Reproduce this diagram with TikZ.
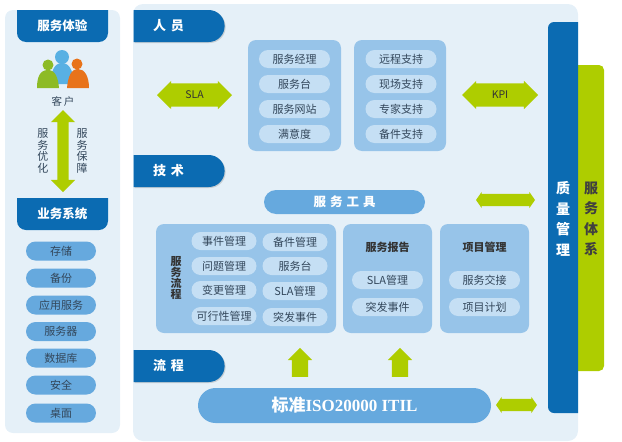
\documentclass[tikz,border=0pt]{standalone}
\usepackage{fontspec}
\usepackage{xcolor}
\usepackage{tikz}
\usetikzlibrary{shapes.arrows,shapes.misc,shadows}
\setmainfont{Noto Sans CJK SC}
\newfontfamily\latinserif{Liberation Serif}
\definecolor{panelbg}{HTML}{E5F0F8}
\definecolor{tabblue}{HTML}{0B6BB2}
\definecolor{boxblue}{HTML}{97C4E9}
\definecolor{pillblue}{HTML}{C5DFF4}
\definecolor{midblue}{HTML}{66A9DE}
\definecolor{limegreen}{HTML}{AECD00}
\definecolor{inktext}{HTML}{33475B}
\definecolor{headblue}{HTML}{58B0E3}
\definecolor{headgreen}{HTML}{8DBB25}
\definecolor{headorange}{HTML}{E8731A}
\tikzset{
  tabnode/.style={rounded rectangle,rounded rectangle west arc=none,fill=tabblue,text=white,minimum width=91pt,minimum height=32pt,inner sep=0pt,text width=51pt,align=left,font=\fontsize{13}{15}\selectfont\bfseries,drop shadow={opacity=.3,shadow xshift=1pt,shadow yshift=-1pt}},
  pillnode/.style={rounded rectangle,fill=pillblue,text=inktext,minimum width=71pt,minimum height=18pt,inner sep=0pt,font=\fontsize{11}{13}\selectfont},
  sidepill/.style={rounded rectangle,fill=midblue,text=inktext,minimum width=70pt,minimum height=19pt,inner sep=0pt,font=\fontsize{11}{13}\selectfont},
  flowpill/.style={pillnode,minimum width=65pt},
  groupbox/.style={fill=boxblue,rounded corners=8pt},
  titlenode/.style={text=black!80,font=\fontsize{11}{13}\selectfont\bfseries,inner sep=0pt},
  vtext/.style={align=center,inner sep=0pt,text width=1.2em,text=inktext,font=\fontsize{11}{11.5}\selectfont},
  widearrow/.style={double arrow,fill=limegreen,inner xsep=0pt,inner ysep=7.5pt,double arrow head extend=2.5pt,text=black!80,font=\fontsize{10.5}{12}\selectfont},
  flatarrow/.style={double arrow,fill=limegreen,inner sep=6pt,double arrow head extend=2pt,double arrow tip angle=110},
  uparrow/.style={single arrow,fill=limegreen,shape border rotate=90,minimum height=29pt,inner sep=8pt,single arrow head extend=4pt}
}
\begin{document}
\begin{tikzpicture}[x=1pt,y=-1pt]
\useasboundingbox (0,0) rectangle (622,442);
% panels
\fill[panelbg,rounded corners=8pt] (5,10) rectangle (120,433);
\fill[panelbg,rounded corners=10pt] (133,4) rectangle (578,441);
\fill[limegreen,rounded corners=5pt] (570,65) rectangle (604,371);
\fill[tabblue] (578,22) [rounded corners=6pt] -- (548,22) -- (548,413) [sharp corners] -- (578,413) -- cycle;
\node[text=white,align=center,inner sep=0pt,font=\fontsize{14}{20.5}\selectfont\bfseries] (quality) at (563,219) {质\\量\\管\\理};
\node[text=black!75,align=center,inner sep=0pt,font=\fontsize{14}{20.5}\selectfont\bfseries] (system) at (591,219) {服\\务\\体\\系};
% left column
\fill[tabblue] (17,10) -- (108,10) [rounded corners=9pt] -- (108,42) -- (17,42) [sharp corners] -- cycle;
\node[text=white,inner sep=0pt,font=\fontsize{12.5}{14}\selectfont\bfseries] (experience) at (62.5,26) {服务体验};
\fill[tabblue] (17,198) -- (108,198) [rounded corners=9pt] -- (108,230) -- (17,230) [sharp corners] -- cycle;
\node[text=white,inner sep=0pt,font=\fontsize{12.5}{14}\selectfont\bfseries] (business) at (62.5,214) {业务系统};
% people
\fill[headblue] (50,84) .. controls (51,72) and (54,63) .. (62,63) .. controls (70,63) and (73,72) .. (75,84) -- cycle;
\fill[headblue] (62,57) circle (7);
\fill[headgreen] (37,88) .. controls (37,77) and (40,70) .. (48,70) .. controls (55,70) and (58,77) .. (59,88) -- cycle;
\fill[headgreen] (48,65) circle (5.5);
\fill[headorange] (67,88) .. controls (68,77) and (71,69) .. (78,69) .. controls (85,69) and (89,77) .. (89,88) -- cycle;
\fill[headorange] (77,64) circle (5.5);
\node[text=inktext,inner sep=0pt,font=\fontsize{10.5}{12}\selectfont] (client) at (63,101) {客\,户};
\node[double arrow,fill=limegreen,shape border rotate=90,minimum height=82pt,inner sep=5.5pt,double arrow head extend=6.5pt] (link) at (63,151) {};
\node[vtext] (optimize) at (43,151) {服\\务\\优\\化};
\node[vtext] (assure) at (82,151) {服\\务\\保\\障};
\node[sidepill] (storage) at (61,251) {存储};
\node[sidepill] (backup) at (61,278) {备份};
\node[sidepill] (appserv) at (61,305) {应用服务};
\node[sidepill] (server) at (61,331.5) {服务器};
\node[sidepill] (database) at (61,358) {数据库};
\node[sidepill] (security) at (61,385) {安全};
\node[sidepill] (desktop) at (61,413) {桌面};
% tabs
\node[tabnode] (people) at (178.5,26) {人\hspace{5pt}员};
\node[tabnode] (tech) at (178.5,171) {技\hspace{5pt}术};
\node[tabnode] (process) at (178.5,366) {流\hspace{5pt}程};
% people row
\node[widearrow,minimum height=75pt] (sla) at (194.5,95) {SLA};
\node[widearrow,minimum height=76pt] (kpi) at (500,95) {KPI};
\fill[groupbox] (248,40) rectangle (341,151);
\node[pillnode] (manager) at (294.5,59) {服务经理};
\node[pillnode] (desk) at (294.5,84) {服务台};
\node[pillnode] (website) at (294.5,109) {服务网站};
\node[pillnode] (satisfy) at (294.5,134) {满意度};
\fill[groupbox] (354,40) rectangle (446,151);
\node[pillnode] (remote) at (401,59) {远程支持};
\node[pillnode] (onsite) at (401,84) {现场支持};
\node[pillnode] (expert) at (401,109) {专家支持};
\node[pillnode] (spare) at (401,134) {备件支持};
% tools row
\node[rounded rectangle,fill=midblue,text=white,minimum width=161pt,minimum height=24pt,inner sep=0pt,font=\fontsize{12.5}{14}\selectfont\bfseries] (tools) at (344.5,202) {服\hspace{4pt}务\hspace{4pt}工\hspace{4pt}具};
\node[flatarrow,minimum height=59pt] (toolarrow) at (505.5,200) {};
% process row
\fill[groupbox] (156,224) rectangle (336,333);
\node[vtext,text=black!80,font=\fontsize{11}{11}\selectfont\bfseries] (flowtitle) at (176,278) {服\\务\\流\\程};
\node[flowpill] (incident) at (224,241) {事件管理};
\node[flowpill] (problem) at (224,266) {问题管理};
\node[flowpill] (change) at (224,290) {变更管理};
\node[flowpill] (feasible) at (224,316) {可行性管理};
\node[flowpill] (parts) at (295,242) {备件管理};
\node[flowpill] (helpdesk) at (295,266) {服务台};
\node[flowpill] (slamgmt) at (295,291) {SLA管理};
\node[flowpill] (burst) at (295,317) {突发事件};
\fill[groupbox] (343,224) rectangle (432,333);
\node[titlenode] (report) at (387.5,247) {服务报告};
\node[pillnode] (reportsla) at (387.5,280) {SLA管理};
\node[pillnode] (reportburst) at (387.5,307) {突发事件};
\fill[groupbox] (440,224) rectangle (529,333);
\node[titlenode] (project) at (484.5,247) {项目管理};
\node[pillnode] (handover) at (484.5,280) {服务交接};
\node[pillnode] (plan) at (484.5,307) {项目计划};
% standard row
\node[uparrow] (upleft) at (300,366.5) {};
\node[uparrow] (upright) at (400,366.5) {};
\node[rounded rectangle,fill=midblue,text=white,minimum width=293pt,minimum height=35pt,inner sep=0pt,font=\fontsize{17}{19}\selectfont\bfseries] (standard) at (344.5,405.5) {标准{\latinserif ISO20000 ITIL}};
\node[flatarrow,minimum height=41pt] (stdarrow) at (516.5,405) {};
\end{tikzpicture}
\end{document}
